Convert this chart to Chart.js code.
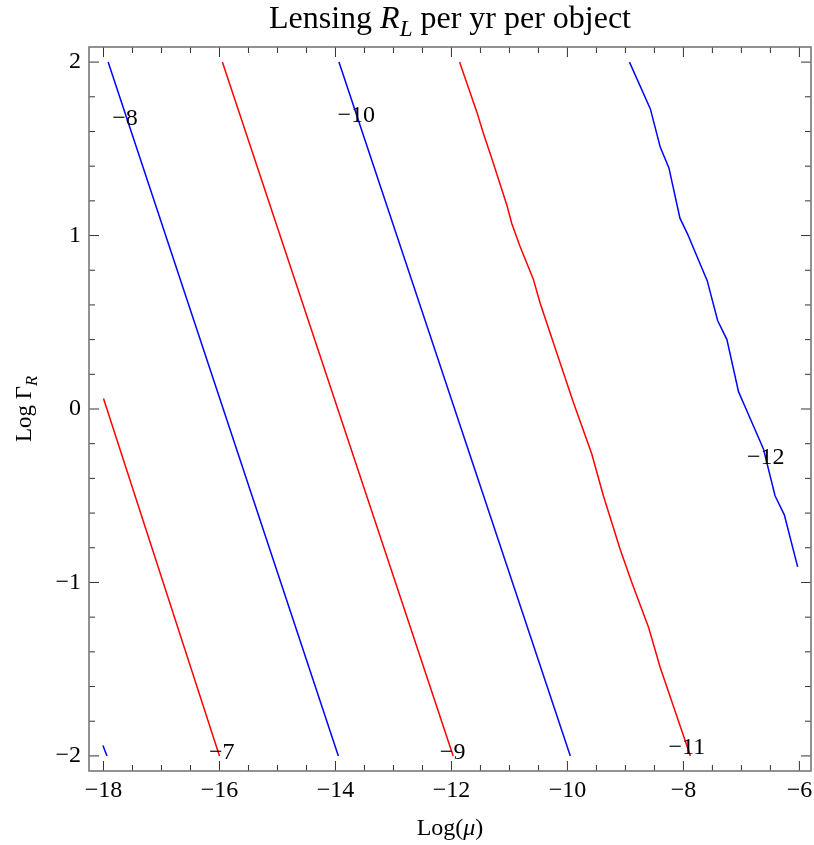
<!DOCTYPE html>
<html>
<head>
<meta charset="utf-8">
<script src="https://cdn.jsdelivr.net/npm/chart.js@4"></script>
<style>
  body { margin: 0; background: #fff; }
  canvas { display: block; }
</style>
</head>
<body>
<canvas id="lensingChart" width="814" height="845"></canvas>
<script>
// ticks
const xTicks = [-18, -16, -14, -12, -10, -8, -6];
const yTicks = [-2, -1, 0, 1, 2];

// contour lines (Log mu, Log Gamma_R)
const c6X = [-18.01, -17.94];
const c6Y = [-1.94, -2.0];
const c7X = [-18.0, -16.0];
const c7Y = [0.06, -2.0];
const c8X = [-17.92, -13.95];
const c8Y = [2.0, -2.0];
const c9X = [-15.95, -11.97];
const c9Y = [2.0, -2.0];
const c10X = [-13.94, -9.95];
const c10Y = [2.0, -2.0];
const c11X = [-11.86, -11.56, -11.45, -11.30, -11.04, -10.96, -10.82, -10.59, -10.47, -10.30, -9.90, -9.58, -9.38, -9.09, -8.89, -8.60, -8.40, -7.88];
const c11Y = [2.0, 1.71, 1.59, 1.44, 1.17, 1.07, 0.94, 0.75, 0.61, 0.44, 0.04, -0.26, -0.50, -0.81, -1.00, -1.26, -1.49, -2.0];
const c12X = [-8.93, -8.57, -8.40, -8.25, -8.06, -7.93, -7.59, -7.41, -7.25, -7.05, -6.92, -6.62, -6.42, -6.26, -6.03];
const c12Y = [2.0, 1.73, 1.51, 1.39, 1.10, 1.01, 0.74, 0.51, 0.40, 0.10, 0.0, -0.23, -0.50, -0.61, -0.91];

// contour labels
const labelText = ["\u22127", "\u22128", "\u22129", "\u221210", "\u221211", "\u221212"];
const labelX = [-15.96, -17.63, -11.98, -13.64, -7.94, -6.58];
const labelY = [-1.98, 1.675, -1.98, 1.69, -1.95, -0.28];

const SERIF = "'Liberation Serif', 'DejaVu Serif', serif";
const RED = "#ff0000";
const BLUE = "#0000ff";

function pts(xs, ys) {
  return xs.map((x, i) => ({ x: x, y: ys[i] }));
}
function line(xs, ys, color) {
  return {
    data: pts(xs, ys),
    showLine: true,
    borderColor: color,
    borderWidth: 1.5,
    pointRadius: 0,
    tension: 0,
  };
}
function minus(v) {
  return String(v).replace("-", "\u2212");
}

// text with italic / subscript pieces
function drawRich(ctx, parts, x, y, size) {
  const pieces = parts.map(p => {
    const s = p.sub ? size * 0.72 : size;
    const font = (p.italic ? "italic " : "") + s + "px " + SERIF;
    ctx.font = font;
    return { text: p.text, font: font, w: ctx.measureText(p.text).width, dy: p.sub ? size * 0.25 : 0 };
  });
  const total = pieces.reduce((a, p) => a + p.w, 0);
  let cx = x - total / 2;
  ctx.textAlign = "left";
  ctx.textBaseline = "alphabetic";
  pieces.forEach(p => {
    ctx.font = p.font;
    ctx.fillText(p.text, cx, y + p.dy);
    cx += p.w;
  });
}

const framePlugin = {
  id: "frame",
  afterDraw(chart) {
    const ctx = chart.ctx;
    const a = chart.chartArea;
    const xs = chart.scales.x;
    const ys = chart.scales.y;
    ctx.save();

    // inward ticks on all four sides
    ctx.strokeStyle = "#333";
    ctx.lineWidth = 1;
    ctx.beginPath();
    for (let v = -18; v <= -6 + 0.01; v += 0.5) {
      const px = xs.getPixelForValue(v);
      const len = Math.abs(v - Math.round(v / 2) * 2) < 1e-6 ? 10 : 6;
      ctx.moveTo(px, a.bottom); ctx.lineTo(px, a.bottom - len);
      ctx.moveTo(px, a.top); ctx.lineTo(px, a.top + len);
    }
    for (let k = -10; k <= 10; k++) {
      const py = ys.getPixelForValue(k / 5);
      const len = k % 5 === 0 ? 10 : 6;
      ctx.moveTo(a.left, py); ctx.lineTo(a.left + len, py);
      ctx.moveTo(a.right, py); ctx.lineTo(a.right - len, py);
    }
    ctx.stroke();

    // frame
    ctx.strokeStyle = "#777";
    ctx.lineWidth = 1.6;
    ctx.strokeRect(a.left, a.top, a.right - a.left, a.bottom - a.top);

    // contour labels
    ctx.fillStyle = "#000";
    ctx.font = "24px " + SERIF;
    ctx.textAlign = "center";
    ctx.textBaseline = "middle";
    labelText.forEach((t, i) => {
      ctx.fillText(t, xs.getPixelForValue(labelX[i]), ys.getPixelForValue(labelY[i]));
    });

    // title and axis titles
    const midX = (a.left + a.right) / 2;
    drawRich(ctx, [
      { text: "Lensing " },
      { text: "R", italic: true },
      { text: "L", italic: true, sub: true },
      { text: " per yr per object" },
    ], midX, 28, 32);

    drawRich(ctx, [
      { text: "Log(" },
      { text: "\u03bc", italic: true },
      { text: ")" },
    ], midX, 835, 24);

    ctx.translate(31, (a.top + a.bottom) / 2);
    ctx.rotate(-Math.PI / 2);
    drawRich(ctx, [
      { text: "Log \u0393" },
      { text: "R", italic: true, sub: true },
    ], 0, 0, 23);
    ctx.restore();
  },
};

const ctx = document.getElementById("lensingChart").getContext("2d");
new Chart(ctx, {
  type: "scatter",
  data: {
    datasets: [
      line(c6X, c6Y, BLUE),
      line(c7X, c7Y, RED),
      line(c8X, c8Y, BLUE),
      line(c9X, c9Y, RED),
      line(c10X, c10Y, BLUE),
      line(c11X, c11Y, RED),
      line(c12X, c12Y, BLUE),
    ],
  },
  options: {
    responsive: false,
    animation: false,
    layout: { padding: { top: 47, right: 3, left: 0, bottom: 0 } },
    plugins: {
      legend: { display: false },
      tooltip: { enabled: false },
    },
    scales: {
      x: {
        type: "linear",
        min: -18.25,
        max: -5.8,
        grid: { display: false, tickLength: 0 },
        border: { display: false },
        afterBuildTicks: s => { s.ticks = xTicks.map(v => ({ value: v })); },
        afterFit: s => { s.height = 74; s.paddingLeft = 0; s.paddingRight = 0; },
        ticks: {
          color: "#000",
          padding: 5,
          maxRotation: 0,
          font: { family: SERIF, size: 24 },
          callback: v => minus(v),
        },
      },
      y: {
        type: "linear",
        min: -2.087,
        max: 2.087,
        grid: { display: false, tickLength: 0 },
        border: { display: false },
        afterBuildTicks: s => { s.ticks = yTicks.map(v => ({ value: v })); },
        afterFit: s => { s.width = 89; s.paddingTop = 0; s.paddingBottom = 0; },
        ticks: {
          color: "#000",
          padding: 8,
          font: { family: SERIF, size: 24 },
          callback: v => minus(v),
        },
      },
    },
  },
  plugins: [framePlugin],
});
</script>
</body>
</html>
